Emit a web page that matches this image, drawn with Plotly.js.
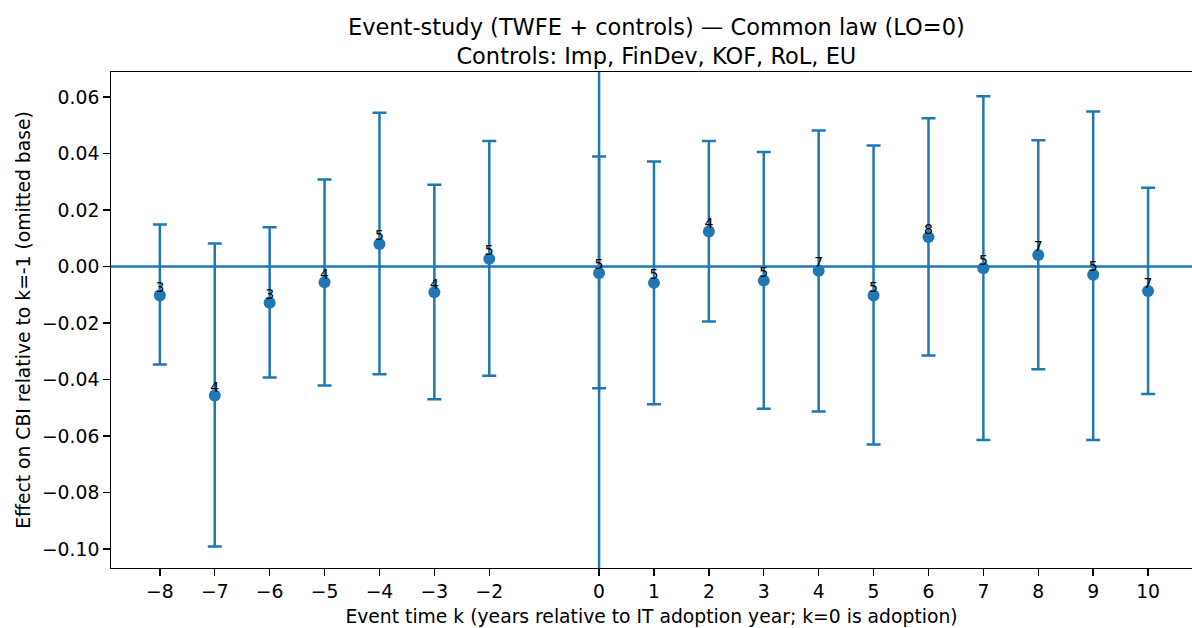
<!DOCTYPE html>
<html>
<head>
<meta charset="utf-8">
<script src="https://cdn.plot.ly/plotly-3.0.1.min.js"></script>
<style>html,body{margin:0;padding:0;background:#fff;overflow:hidden}</style>
</head>
<body>
<div id="chart" style="width:1192px;height:628px"></div>
<script>
// Event time k
const k = [-8, -7, -6, -5, -4, -3, -2, 0, 1, 2, 3, 4, 5, 6, 7, 8, 9, 10];
// Point estimates
const coef = [-0.0103, -0.0457, -0.0128, -0.0056, 0.0080, -0.0091, 0.0027, -0.0023, -0.0058, 0.0124, -0.0050, -0.0015, -0.0103, 0.0104, -0.0006, 0.0041, -0.0029, -0.0087];
// Confidence interval upper / lower bounds
const ciUpper = [0.0149, 0.0081, 0.0139, 0.0308, 0.0544, 0.0289, 0.0444, 0.0389, 0.0372, 0.0444, 0.0405, 0.0481, 0.0428, 0.0525, 0.0603, 0.0447, 0.0549, 0.0279];
const ciLower = [-0.0347, -0.0991, -0.0393, -0.0421, -0.0381, -0.0470, -0.0387, -0.0431, -0.0488, -0.0195, -0.0504, -0.0513, -0.0630, -0.0315, -0.0614, -0.0364, -0.0614, -0.0451];
// Number of treated units per event time
const nObs = [3, 4, 3, 4, 5, 4, 5, 5, 5, 4, 5, 7, 5, 8, 5, 7, 5, 7];
// Y tick values
const yTicks = [-0.10, -0.08, -0.06, -0.04, -0.02, 0.00, 0.02, 0.04, 0.06];

const blue = '#1f77b4';
const font = 'DejaVu Sans, sans-serif';

const errPlus = ciUpper.map((u, i) => u - coef[i]);
const errMinus = coef.map((c, i) => c - ciLower[i]);

const traces = [
  {
    x: k, y: coef, type: 'scatter', mode: 'markers',
    marker: {color: blue, size: 12},
    error_y: {type: 'data', symmetric: false, array: errPlus, arrayminus: errMinus,
              color: blue, thickness: 2.5, width: 7},
    hoverinfo: 'x+y', showlegend: false
  },
  {
    x: k, y: coef, type: 'scatter', mode: 'text',
    text: nObs.map(String), textposition: 'top center',
    textfont: {family: font, size: 14, color: '#000'},
    hoverinfo: 'skip', showlegend: false
  }
];

const layout = {
  width: 1192, height: 628,
  margin: {l: 111, r: 0, t: 72, b: 60},
  paper_bgcolor: '#fff', plot_bgcolor: '#fff',
  font: {family: font, size: 18.75, color: '#000'},
  title: {
    text: 'Event-study (TWFE + controls) — Common law (LO=0)<br>Controls: Imp, FinDev, KOF, RoL, EU',
    font: {family: font, size: 22.5, color: '#000'},
    x: 0.5045, xref: 'paper', xanchor: 'center',
    y: 0.945, yref: 'container', yanchor: 'top'
  },
  xaxis: {
    range: [-8.89, 10.80],
    tickmode: 'array', tickvals: k, ticktext: k.map(v => v < 0 ? '\u2212' + Math.abs(v) : String(v)),
    showgrid: false, zeroline: false,
    showline: true, linecolor: '#000', linewidth: 1.4, mirror: true,
    ticks: 'outside', ticklen: 6.5, tickwidth: 1.4, tickcolor: '#000',
    tickfont: {family: font, size: 18.75, color: '#000'},
    title: {text: 'Event time k (years relative to IT adoption year; k=0 is adoption)',
            font: {family: font, size: 18.75, color: '#000'}, standoff: 8}
  },
  yaxis: {
    range: [-0.10673, 0.06885],
    tickmode: 'array', tickvals: yTicks, ticktext: yTicks.map(v => (v < 0 ? '\u2212' : '') + Math.abs(v).toFixed(2)),
    showgrid: false, zeroline: false,
    showline: true, linecolor: '#000', linewidth: 1.4, mirror: false,
    ticks: 'outside', ticklen: 6.5, tickwidth: 1.4, tickcolor: '#000',
    tickfont: {family: font, size: 18.75, color: '#000'},
    title: {text: 'Effect on CBI relative to k=-1 (omitted base)',
            font: {family: font, size: 18.75, color: '#000'}, standoff: 6}
  },
  shapes: [
    {type: 'line', xref: 'paper', yref: 'y', x0: 0, x1: 1, y0: 0, y1: 0,
     line: {color: blue, width: 2.5}, layer: 'below'},
    {type: 'line', xref: 'x', yref: 'paper', x0: 0, x1: 0, y0: 0, y1: 1,
     line: {color: blue, width: 2.5}, layer: 'below'}
  ]
};

Plotly.newPlot('chart', traces, layout, {displayModeBar: false, staticPlot: true});
</script>
</body>
</html>
